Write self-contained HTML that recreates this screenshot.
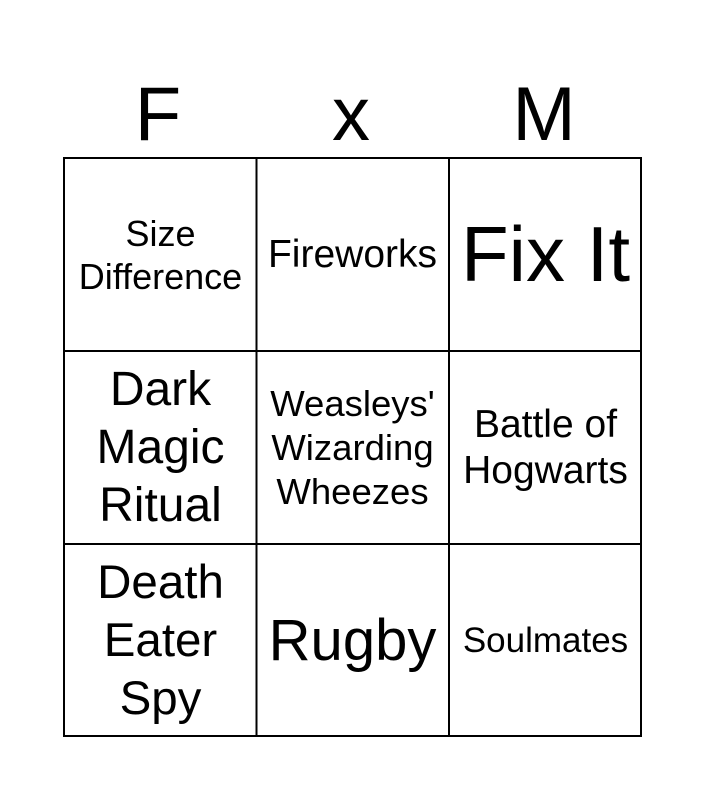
<!DOCTYPE html>
<html><head><style>
body{margin:0;width:705px;height:800px;background:#fff;font-family:"Liberation Sans",Arial,sans-serif;position:relative;overflow:hidden}
.h{position:absolute;top:70px;font-size:76px;width:192px;text-align:center;line-height:90px}
.c{position:absolute;width:193px;height:193px;display:flex;align-items:center;justify-content:center;text-align:center;box-sizing:border-box}
svg{position:absolute;left:0;top:0}
</style></head><body>
<svg width="705" height="800"><g stroke="#000" stroke-width="2" fill="none">
<rect x="64" y="158" width="577" height="578"/>
<line x1="256.5" y1="158" x2="256.5" y2="736"/>
<line x1="449" y1="158" x2="449" y2="736"/>
<line x1="64" y1="351" x2="641" y2="351"/>
<line x1="64" y1="544" x2="641" y2="544"/>
</g></svg>
<div class="h" style="left:62px">F</div>
<div class="h" style="left:255px">x</div>
<div class="h" style="left:448px">M</div>

<div class="c" style="left:64px;top:158px;font-size:36px;line-height:43px">Size<br>Difference</div>
<div class="c" style="left:256px;top:158px;font-size:39px">Fireworks</div>
<div class="c" style="left:449px;top:158px;font-size:78px">Fix It</div>

<div class="c" style="left:64px;top:351px;font-size:48px;line-height:58px">Dark<br>Magic<br>Ritual</div>
<div class="c" style="left:256px;top:351px;font-size:36.5px;line-height:44px">Weasleys'<br>Wizarding<br>Wheezes</div>
<div class="c" style="left:449px;top:351px;font-size:39px;line-height:46px">Battle of<br>Hogwarts</div>

<div class="c" style="left:64px;top:544px;font-size:47.5px;line-height:58px">Death<br>Eater<br>Spy</div>
<div class="c" style="left:256px;top:544px;font-size:58px">Rugby</div>
<div class="c" style="left:449px;top:544px;font-size:35px">Soulmates</div>
</body></html>
